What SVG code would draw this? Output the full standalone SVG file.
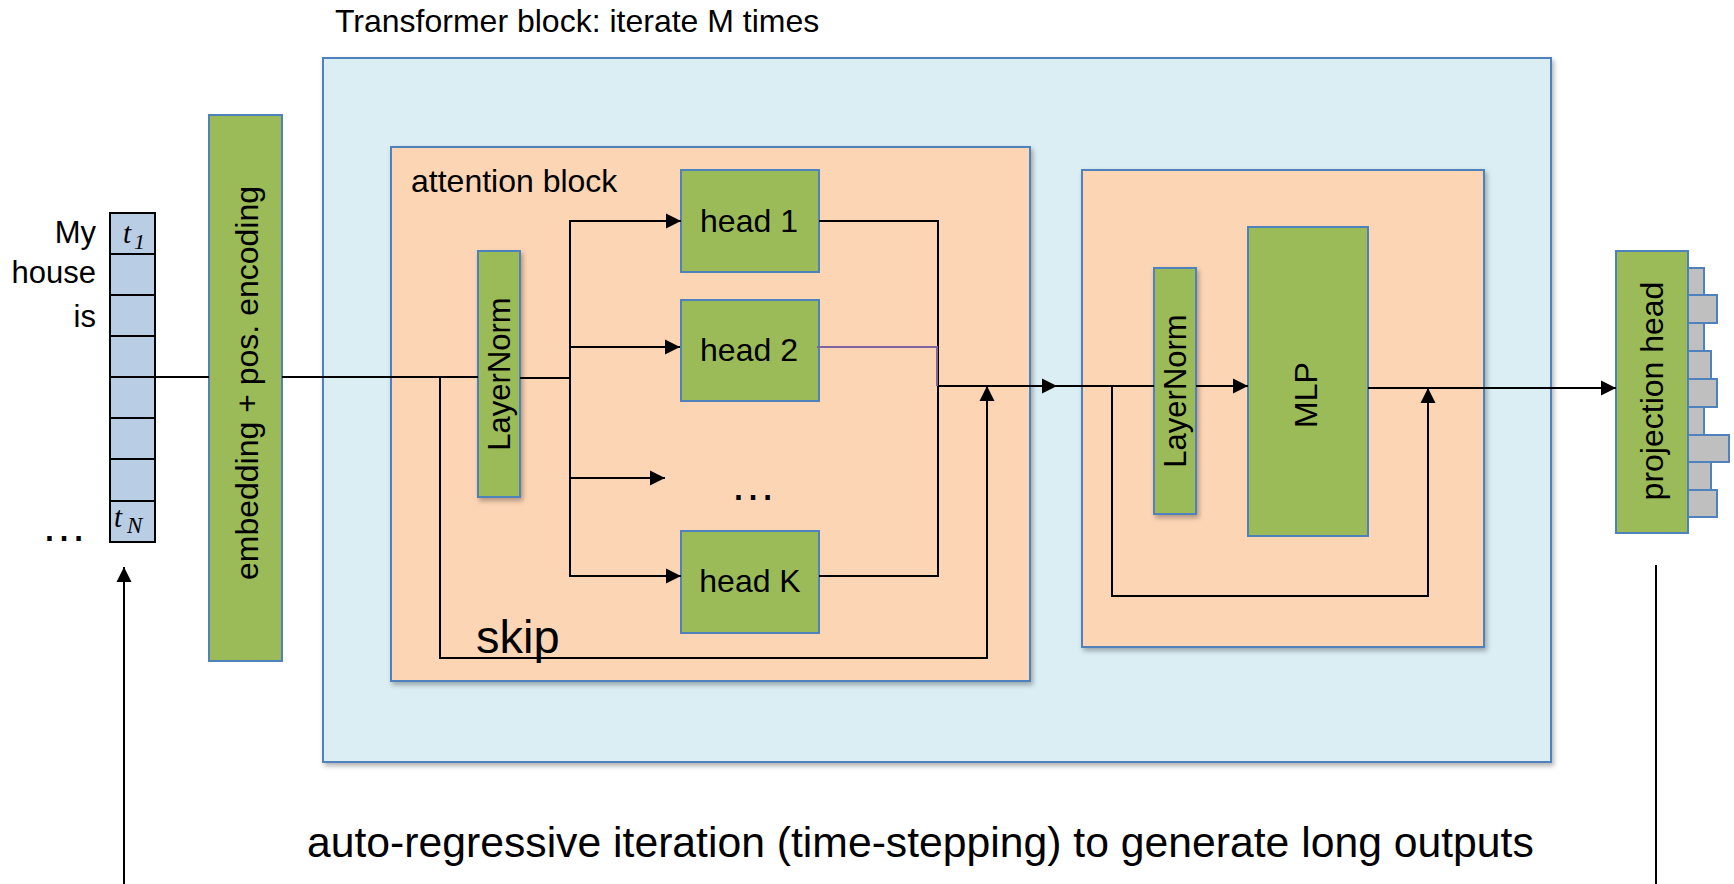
<svg xmlns="http://www.w3.org/2000/svg" width="1734" height="884" viewBox="0 0 1734 884">
  <style>
    .lbl { font-family: "Liberation Sans", Arial, sans-serif; fill: #000; }
    .math { font-family: "Liberation Serif", "Times New Roman", serif; font-style: italic; fill: #000; }
    .green { fill: #9BBB59; stroke: #4F81BD; stroke-width: 2; }
    .peach { fill: #FCD5B5; stroke: #4F81BD; stroke-width: 2; }
    .sky { fill: #DAEEF3; stroke: #4F81BD; stroke-width: 2; }
    .cell { fill: #B9CDE5; stroke: #000; stroke-width: 2; }
    .bar { fill: #BFBFBF; stroke: #4F81BD; stroke-width: 2; }
    .wire { fill: none; stroke: #000; stroke-width: 2; }
    .wire2 { fill: none; stroke: #8064A2; stroke-width: 2; }
  </style>
  <defs>
    <marker id="arrow" markerUnits="userSpaceOnUse" markerWidth="16" markerHeight="16" refX="15" refY="8" orient="auto">
      <path d="M0,0.5 L15,8 L0,15.5 Z" fill="#000"/>
    </marker>
    <filter id="shadow" x="-10%" y="-10%" width="130%" height="130%">
      <feDropShadow dx="2" dy="3" stdDeviation="2.5" flood-color="#000" flood-opacity="0.3"/>
    </filter>
  </defs>

  <rect width="1734" height="884" fill="#fff"/>

  <!-- title -->
  <text class="lbl" x="335" y="32" font-size="32">Transformer block: iterate M times</text>

  <!-- transformer block container -->
  <g id="transformer-block">
    <rect class="sky" x="323" y="58" width="1228" height="704" filter="url(#shadow)"/>
  </g>

  <!-- attention block container -->
  <g id="attention-block">
    <rect class="peach" x="391" y="147" width="639" height="534" filter="url(#shadow)"/>
    <text class="lbl" x="411" y="192" font-size="32">attention block</text>
  </g>

  <!-- feed-forward block container -->
  <g id="mlp-block">
    <rect class="peach" x="1082" y="170" width="402" height="477" filter="url(#shadow)"/>
  </g>

  <!-- input tokens -->
  <g id="tokens">
    <rect class="cell" x="110" y="213" width="45" height="41"/>
    <rect class="cell" x="110" y="254" width="45" height="41"/>
    <rect class="cell" x="110" y="295" width="45" height="41"/>
    <rect class="cell" x="110" y="336" width="45" height="41"/>
    <rect class="cell" x="110" y="377" width="45" height="41"/>
    <rect class="cell" x="110" y="418" width="45" height="41"/>
    <rect class="cell" x="110" y="459" width="45" height="42"/>
    <rect class="cell" x="110" y="501" width="45" height="41"/>
    <text class="math" x="123" y="243" font-size="29">t</text>
    <text class="math" x="134" y="249" font-size="22" font-style="normal">1</text>
    <text class="math" x="114" y="527" font-size="29">t</text>
    <text class="math" x="127" y="533" font-size="23">N</text>
    <text class="lbl" x="96" y="243" font-size="31" text-anchor="end">My</text>
    <text class="lbl" x="96" y="283" font-size="31" text-anchor="end">house</text>
    <text class="lbl" x="96" y="327" font-size="31" text-anchor="end">is</text>
    <text class="lbl" x="64" y="541" font-size="46" text-anchor="middle">…</text>
  </g>

  <!-- embedding -->
  <g id="embedding">
    <rect class="green" x="209" y="115" width="73" height="546"/>
    <text class="lbl" font-size="32" text-anchor="middle" transform="translate(258 383) rotate(-90)">embedding + pos. encoding</text>
  </g>

  <!-- attention internals -->
  <g id="layernorm-1">
    <rect class="green" x="478" y="251" width="42" height="246" filter="url(#shadow)"/>
    <text class="lbl" font-size="31" text-anchor="middle" transform="translate(510 374) rotate(-90)">LayerNorm</text>
  </g>
  <g id="head-1">
    <rect class="green" x="681" y="170" width="138" height="102"/>
    <text class="lbl" x="749" y="232" font-size="32" text-anchor="middle">head 1</text>
  </g>
  <g id="head-2">
    <rect class="green" x="681" y="300" width="138" height="101"/>
    <text class="lbl" x="749" y="361" font-size="32" text-anchor="middle">head 2</text>
  </g>
  <g id="head-dots">
    <text class="lbl" x="753" y="500" font-size="46" text-anchor="middle">…</text>
  </g>
  <g id="head-k">
    <rect class="green" x="681" y="531" width="138" height="102"/>
    <text class="lbl" x="750" y="592" font-size="32" text-anchor="middle">head K</text>
  </g>
  <g id="skip-label">
    <text class="lbl" x="476" y="653" font-size="47">skip</text>
  </g>

  <!-- feed-forward internals -->
  <g id="layernorm-2">
    <rect class="green" x="1154" y="268" width="42" height="246" filter="url(#shadow)"/>
    <text class="lbl" font-size="31" text-anchor="middle" transform="translate(1186 391) rotate(-90)">LayerNorm</text>
  </g>
  <g id="mlp">
    <rect class="green" x="1248" y="227" width="120" height="309"/>
    <text class="lbl" font-size="32" text-anchor="middle" transform="translate(1317 395) rotate(-90)">MLP</text>
  </g>

  <!-- output projection -->
  <g id="projection-head">
    <rect class="bar" x="1688" y="268" width="16" height="27"/>
    <rect class="bar" x="1688" y="295" width="29" height="28"/>
    <rect class="bar" x="1688" y="323" width="16" height="28"/>
    <rect class="bar" x="1688" y="351" width="23" height="28"/>
    <rect class="bar" x="1688" y="379" width="29" height="28"/>
    <rect class="bar" x="1688" y="407" width="16" height="28"/>
    <rect class="bar" x="1688" y="435" width="41" height="27"/>
    <rect class="bar" x="1688" y="462" width="23" height="28"/>
    <rect class="bar" x="1688" y="490" width="29" height="27"/>
    <rect class="green" x="1616" y="251" width="72" height="282"/>
    <text class="lbl" font-size="32" text-anchor="middle" transform="translate(1663 391) rotate(-90)">projection head</text>
  </g>

  <!-- bottom caption -->
  <text class="lbl" x="307" y="857" font-size="42.7">auto-regressive iteration (time-stepping) to generate long outputs</text>

  <!-- connectors -->
  <g id="connectors">
    <!-- input stream -->
    <path class="wire" d="M155,377 H209"/>
    <path class="wire" d="M282,377 H478"/>
    <!-- attention skip -->
    <path class="wire" d="M440,377 V658 H987 V386" marker-end="url(#arrow)"/>
    <!-- fan-out to heads -->
    <path class="wire" d="M520,378 H570"/>
    <path class="wire" d="M570,220 V577"/>
    <path class="wire" d="M570,221 H681" marker-end="url(#arrow)"/>
    <path class="wire" d="M570,347 H680" marker-end="url(#arrow)"/>
    <path class="wire" d="M570,478 H665" marker-end="url(#arrow)"/>
    <path class="wire" d="M570,576 H681" marker-end="url(#arrow)"/>
    <!-- head outputs -->
    <path class="wire" d="M819,221 H938 V576 H819"/>
    <path class="wire2" d="M817,347 H937 V386"/>
    <!-- into feed-forward block -->
    <path class="wire" d="M938,386 H1057" marker-end="url(#arrow)"/>
    <path class="wire" d="M1056,386 H1154"/>
    <path class="wire" d="M1196,386 H1248" marker-end="url(#arrow)"/>
    <!-- feed-forward skip -->
    <path class="wire" d="M1112,386 V596 H1428 V388" marker-end="url(#arrow)"/>
    <!-- to projection -->
    <path class="wire" d="M1368,388 H1616" marker-end="url(#arrow)"/>
    <!-- auto-regressive loop -->
    <path class="wire" d="M124,884 V567" marker-end="url(#arrow)"/>
    <path class="wire" d="M1656,565 V884"/>
  </g>
</svg>
